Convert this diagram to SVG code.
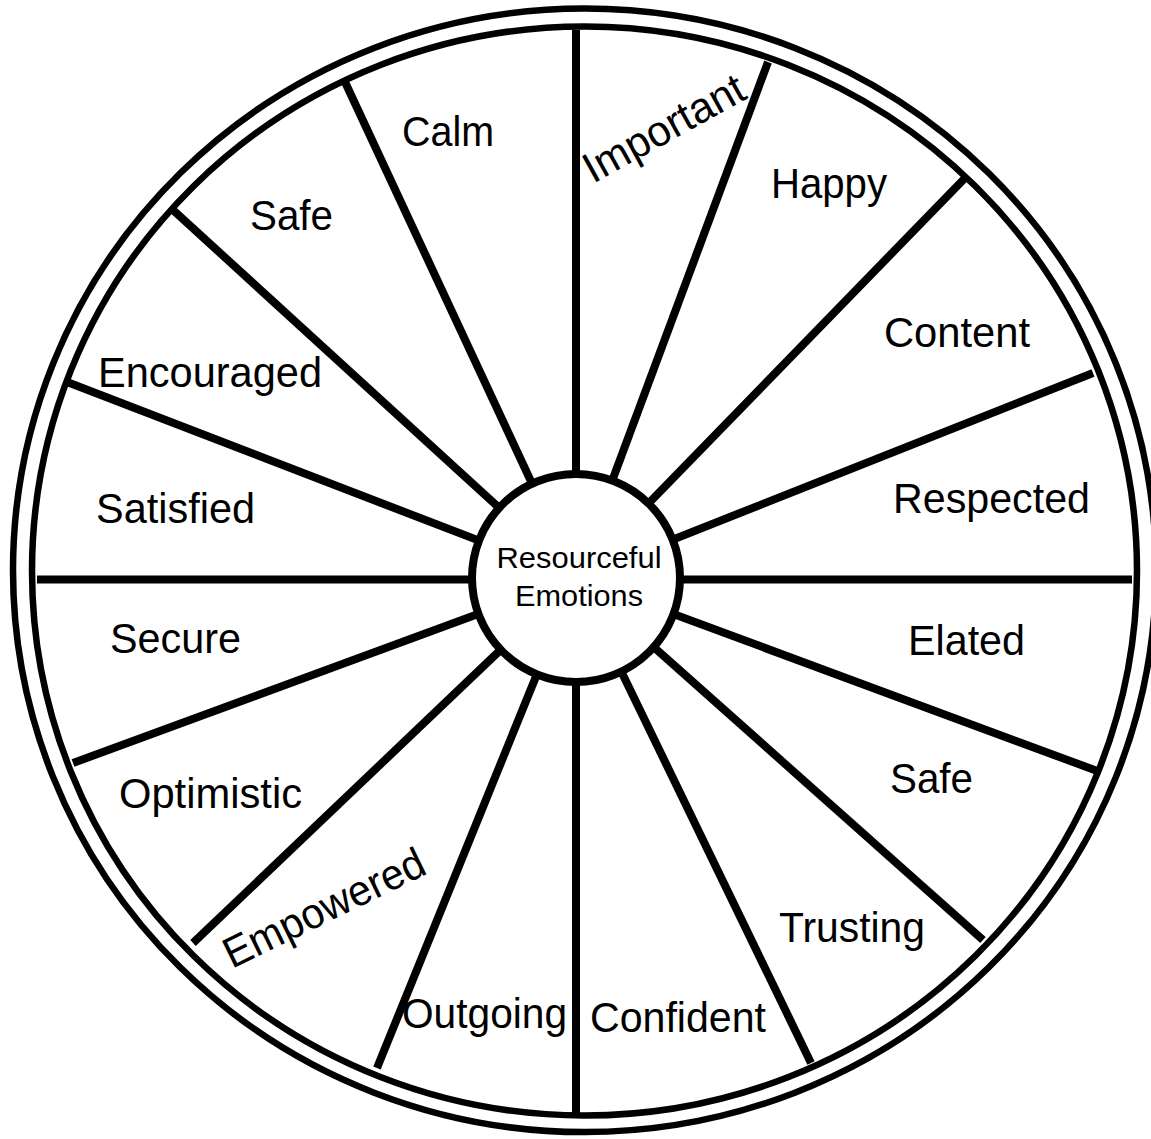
<svg xmlns="http://www.w3.org/2000/svg" width="1151" height="1139" viewBox="0 0 1151 1139">
<style>
.ring{fill:none;stroke:#000;stroke-width:6.5}
.spoke{stroke:#000;stroke-width:8;stroke-linecap:butt}
.lbl{font-family:"Liberation Sans",Arial,sans-serif;font-size:43px;fill:#000}
.hubt{font-family:"Liberation Sans",Arial,sans-serif;font-size:30px;fill:#000;text-anchor:middle}
</style>
<rect width="1151" height="1139" fill="#fff"/>
<g id="rings">
<ellipse class="ring" cx="584.5" cy="570.3" rx="571.5" ry="561.8"/>
<ellipse class="ring" cx="584.5" cy="571" rx="552.5" ry="544.5"/>
</g>
<g id="connectors">
<line class="spoke" x1="576" y1="30" x2="576" y2="578"/>
<line class="spoke" x1="768" y1="62" x2="576" y2="578"/>
<line class="spoke" x1="966" y1="177" x2="576" y2="578"/>
<line class="spoke" x1="1093" y1="373" x2="576" y2="578"/>
<line class="spoke" x1="1132" y1="579.5" x2="576" y2="579.5"/>
<line class="spoke" x1="1100" y1="772" x2="576" y2="578"/>
<line class="spoke" x1="983" y1="940" x2="576" y2="578"/>
<line class="spoke" x1="811" y1="1063" x2="576" y2="578"/>
<line class="spoke" x1="576" y1="1115" x2="576" y2="578"/>
<line class="spoke" x1="377" y1="1068" x2="576" y2="578"/>
<line class="spoke" x1="193" y1="943" x2="576" y2="578"/>
<line class="spoke" x1="73" y1="763" x2="576" y2="578"/>
<line class="spoke" x1="37" y1="579.5" x2="576" y2="579.5"/>
<line class="spoke" x1="67" y1="382" x2="576" y2="578"/>
<line class="spoke" x1="173" y1="210" x2="576" y2="578"/>
<line class="spoke" x1="345" y1="82" x2="576" y2="578"/>
</g>
<g id="hub">
<circle cx="576" cy="578" r="104" fill="#fff" stroke="#000" stroke-width="8"/>
<text class="hubt" x="579" y="568" textLength="165" lengthAdjust="spacingAndGlyphs">Resourceful</text>
<text class="hubt" x="579" y="606" textLength="128" lengthAdjust="spacingAndGlyphs">Emotions</text>
</g>
<g id="labels">
<g id="n-calm"><text class="lbl" x="402" y="146" textLength="92" lengthAdjust="spacingAndGlyphs">Calm</text></g>
<g id="n-important"><text class="lbl" transform="translate(593,184) rotate(-29)" x="0" y="0" textLength="178" lengthAdjust="spacingAndGlyphs">Important</text></g>
<g id="n-happy"><text class="lbl" x="771" y="198" textLength="116" lengthAdjust="spacingAndGlyphs">Happy</text></g>
<g id="n-content"><text class="lbl" x="884" y="347" textLength="146" lengthAdjust="spacingAndGlyphs">Content</text></g>
<g id="n-respected"><text class="lbl" x="893" y="513" textLength="197" lengthAdjust="spacingAndGlyphs">Respected</text></g>
<g id="n-elated"><text class="lbl" x="908" y="655" textLength="117" lengthAdjust="spacingAndGlyphs">Elated</text></g>
<g id="n-safe-right"><text class="lbl" x="890" y="793" textLength="83" lengthAdjust="spacingAndGlyphs">Safe</text></g>
<g id="n-trusting"><text class="lbl" x="779" y="942" textLength="146" lengthAdjust="spacingAndGlyphs">Trusting</text></g>
<g id="n-confident"><text class="lbl" x="590" y="1032" textLength="176" lengthAdjust="spacingAndGlyphs">Confident</text></g>
<g id="n-outgoing"><text class="lbl" x="402" y="1028" textLength="165" lengthAdjust="spacingAndGlyphs">Outgoing</text></g>
<g id="n-empowered"><text class="lbl" transform="translate(232,969) rotate(-26)" x="0" y="0" textLength="219" lengthAdjust="spacingAndGlyphs">Empowered</text></g>
<g id="n-optimistic"><text class="lbl" x="119" y="808" textLength="183" lengthAdjust="spacingAndGlyphs">Optimistic</text></g>
<g id="n-secure"><text class="lbl" x="110" y="653" textLength="131" lengthAdjust="spacingAndGlyphs">Secure</text></g>
<g id="n-satisfied"><text class="lbl" x="96" y="523" textLength="159" lengthAdjust="spacingAndGlyphs">Satisfied</text></g>
<g id="n-encouraged"><text class="lbl" x="98" y="387" textLength="224" lengthAdjust="spacingAndGlyphs">Encouraged</text></g>
<g id="n-safe-left"><text class="lbl" x="250" y="230" textLength="83" lengthAdjust="spacingAndGlyphs">Safe</text></g>
</g>
</svg>
